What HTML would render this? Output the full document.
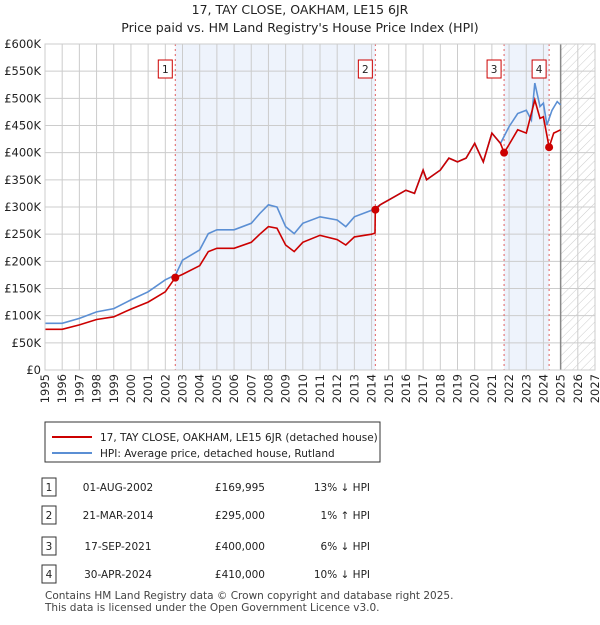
<!DOCTYPE html>
<html><head><meta charset="utf-8"><style>
body{margin:0;background:#fff;font-family:"Liberation Sans","DejaVu Sans",sans-serif;}
svg text{font-family:"DejaVu Sans","Liberation Sans",sans-serif;}
</style></head><body>
<svg id="c" width="600" height="620" xmlns="http://www.w3.org/2000/svg">
<defs><pattern id="hatch" width="6" height="6" patternUnits="userSpaceOnUse" patternTransform="rotate(45)"><line x1="0" y1="0" x2="0" y2="6" stroke="#ccc" stroke-width="1"/></pattern></defs>
<text x="300" y="14" text-anchor="middle" font-size="12.5" fill="#222">17, TAY CLOSE, OAKHAM, LE15 6JR</text>
<text x="300" y="32" text-anchor="middle" font-size="12.5" fill="#222">Price paid vs. HM Land Registry's House Price Index (HPI)</text>
<g id="plot"></g>
<rect x="45" y="422" width="335" height="40" fill="#fff" stroke="#333"/>
<line x1="52" y1="437" x2="92" y2="437" stroke="#cc0000" stroke-width="2"/>
<text x="100" y="441" font-size="10.5" fill="#222">17, TAY CLOSE, OAKHAM, LE15 6JR (detached house)</text>
<line x1="52" y1="453" x2="92" y2="453" stroke="#5b8fd4" stroke-width="2"/>
<text x="100" y="457" font-size="10.5" fill="#222">HPI: Average price, detached house, Rutland</text>
<g id="tbl" font-size="10.5" fill="#222"></g>
<text x="45" y="599" font-size="10.5" fill="#444">Contains HM Land Registry data © Crown copyright and database right 2025.</text>
<text x="45" y="611" font-size="10.5" fill="#444">This data is licensed under the Open Government Licence v3.0.</text>
</svg>
<script>
const hpiYears=[1995,1996,1997,1998,1999,2000,2001,2002,2002.6,2003,2004,2004.5,2005,2006,2007,2007.5,2008,2008.5,2009,2009.5,2010,2011,2012,2012.5,2013,2014,2014.5,2015,2016,2016.5,2017,2017.2,2018,2018.5,2019,2019.5,2020,2020.5,2021,2021.5,2022,2022.5,2023,2023.3,2023.5,2023.8,2024,2024.2,2024.5,2024.8,2025];
const hpiValues=[86,86,95,107,113,129,144,166,175,202,221,251,258,258,270,288,304,300,264,251,270,282,276,264,282,294,304,313,331,325,368,350,368,390,383,390,417,383,436,417,448,472,478,460,528,485,491,451,478,494,488];
const redYears=[1995,1996,1997,1998,1999,2000,2001,2002,2002.58,2003,2004,2004.5,2005,2006,2007,2007.5,2008,2008.5,2009,2009.5,2010,2011,2012,2012.5,2013,2014,2014.2,2014.22,2014.5,2015,2016,2016.5,2017,2017.2,2018,2018.5,2019,2019.5,2020,2020.5,2021,2021.5,2021.71,2022,2022.5,2023,2023.5,2023.8,2024,2024.33,2024.6,2025];
const redValues=[75,75,83,93,98,112,125,144,170,176,192,218,224,224,235,250,264,261,230,218,235,248,240,230,245,250,252,295,304,313,331,325,368,350,368,390,383,390,417,383,436,417,400,415,442,436,497,463,466,410,436,442];
const saleYears=[2002.58,2014.22,2021.71,2024.33];
const saleValues=[169.995,295,400,410];
const saleLabels=["1","2","3","4"];
const saleDates=["01-AUG-2002","21-MAR-2014","17-SEP-2021","30-APR-2024"];
const salePrices=["£169,995","£295,000","£400,000","£410,000"];
const saleHpi=["13% ↓ HPI","1% ↑ HPI","6% ↓ HPI","10% ↓ HPI"];
const yTicks=[0,50,100,150,200,250,300,350,400,450,500,550,600];
const xTicks=[1995,1996,1997,1998,1999,2000,2001,2002,2003,2004,2005,2006,2007,2008,2009,2010,2011,2012,2013,2014,2015,2016,2017,2018,2019,2020,2021,2022,2023,2024,2025,2026,2027];
const NS="http://www.w3.org/2000/svg";
const X=y=>45+(y-1995)*550/32, Y=v=>370-v*326/600;
const g=document.getElementById('plot');
function mk(t,a,p){const e=document.createElementNS(NS,t);for(const k in a)e.setAttribute(k,a[k]);(p||g).appendChild(e);return e;}
let r;
r=mk('rect',{x:X(saleYears[0]),y:44,width:X(saleYears[1])-X(saleYears[0]),height:326,fill:'#eef3fc'});


r=mk('rect',{x:X(saleYears[2]),y:44,width:X(saleYears[3])-X(saleYears[2]),height:326,fill:'#eef3fc'});


r=mk('rect',{x:X(2025),y:44,width:X(2027)-X(2025),height:326,fill:'url(#hatch)'});


yTicks.forEach(v=>{mk('line',{x1:45,x2:X(2027),y1:Y(v),y2:Y(v),stroke:'#ccc'});
 const t=mk('text',{x:41,y:Y(v)+4,'text-anchor':'end','font-size':11.5,fill:'#222'});t.textContent=v?('£'+v+'K'):'£0';
 
 });
xTicks.forEach(yr=>{mk('line',{x1:X(yr),x2:X(yr),y1:44,y2:370,stroke:'#ccc'});
 const t=mk('text',{transform:`translate(${X(yr)+4},${374}) rotate(-90)`,'text-anchor':'end','font-size':11.5,fill:'#222'});t.textContent=yr;
 
 });
mk('line',{x1:X(2025),x2:X(2025),y1:44,y2:370,stroke:'#888','stroke-width':1.5});
saleYears.forEach((s,i)=>{mk('line',{x1:X(s),x2:X(s),y1:44,y2:370,stroke:'#e06060','stroke-dasharray':'2,3'});});
const pts=(xs,vs)=>xs.map((x,i)=>X(x).toFixed(1)+','+Y(vs[i]).toFixed(1)).join(' ');
r=mk('polyline',{points:pts(hpiYears,hpiValues),fill:'none',stroke:'#5b8fd4','stroke-width':1.6});


r=mk('polyline',{points:pts(redYears,redValues),fill:'none',stroke:'#cc0000','stroke-width':1.6});


saleYears.forEach((s,i)=>{
 const c=mk('circle',{cx:X(s),cy:Y(saleValues[i]),r:4,fill:'#cc0000'});
 
 
 const b=mk('rect',{x:X(s)-17,y:60,width:14,height:18,fill:'#fff',stroke:'#cc0000'});
 
 
 const t=mk('text',{x:X(s)-10,y:73,'text-anchor':'middle','font-size':10.5,fill:'#222'});t.textContent=saleLabels[i];
});
mk('rect',{x:45,y:44,width:550,height:326,fill:'none',stroke:'#ccc'});
const tb=document.getElementById('tbl');const rowsY=[487,515,546,574];
saleLabels.forEach((l,i)=>{const y=rowsY[i];
 const b=mk('rect',{x:42,y:y-9,width:14,height:18,fill:'#fff',stroke:'#333'},tb);
 
 
 let t=mk('text',{x:49,y:y+4,'text-anchor':'middle'},tb);t.textContent=l;
 t=mk('text',{x:118,y:y+4,'text-anchor':'middle'},tb);t.textContent=saleDates[i];
 
 
 t=mk('text',{x:265,y:y+4,'text-anchor':'end'},tb);t.textContent=salePrices[i];
 
 
 t=mk('text',{x:370,y:y+4,'text-anchor':'end'},tb);t.textContent=saleHpi[i];
 
 
});
</script>
</body></html>
